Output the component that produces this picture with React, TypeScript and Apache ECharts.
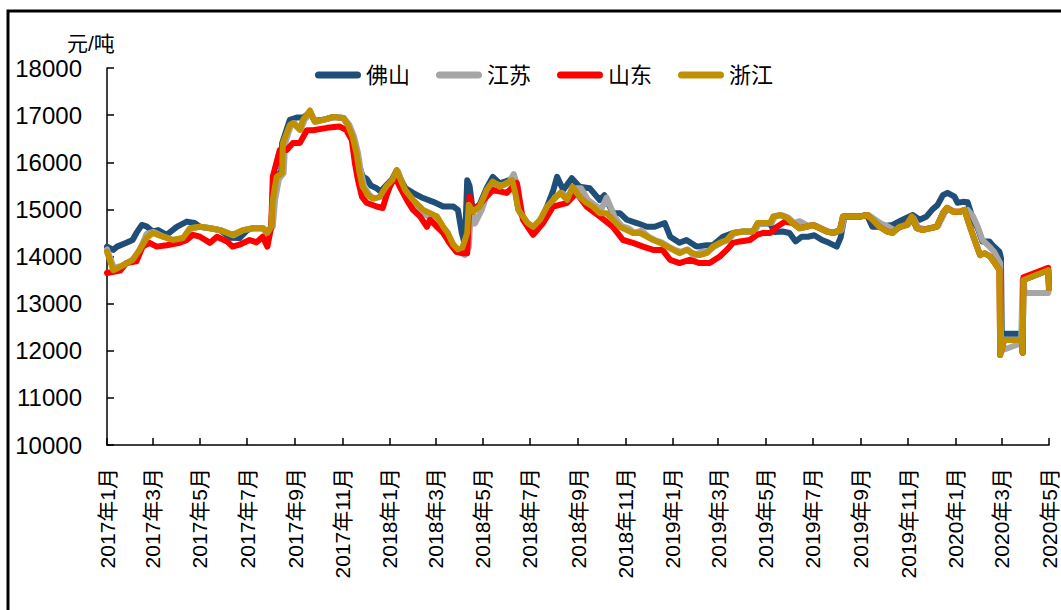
import React, { useEffect, useRef } from "react";
import * as echarts from "echarts";

const seriesNames = ["佛山", "江苏", "山东", "浙江"];
const seriesColors = ["#1F4E79", "#A6A6A6", "#FF0000", "#BF9000"];
const yTicks = { min: 10000, max: 18000, interval: 1000 };
const startDate = "2017-01-01";
const endDate = "2020-05-01";
const yUnit = "元/吨";

const foshan: [string, number][] = [
  ["2017-01-01",14210],["2017-01-09",14140],["2017-01-14",14210],["2017-01-26",14290],["2017-02-03",14350],["2017-02-08",14500],["2017-02-15",14670],["2017-02-21",14640],["2017-03-01",14530],["2017-03-08",14560],["2017-03-19",14460],["2017-04-01",14630],["2017-04-14",14740],["2017-04-24",14710],["2017-05-01",14630],["2017-05-14",14600],["2017-05-27",14560],["2017-06-09",14400],["2017-06-21",14390],["2017-07-01",14560],["2017-07-08",14600],["2017-07-21",14600],["2017-07-27",14500],["2017-08-01",14630],["2017-08-03",15250],["2017-08-08",15700],["2017-08-14",15800],["2017-08-15",16400],["2017-08-21",16700],["2017-08-25",16900],["2017-09-03",16950],["2017-09-11",16950],["2017-09-20",17050],["2017-09-26",16880],["2017-10-07",16900],["2017-10-20",16960],["2017-11-02",16940],["2017-11-08",16800],["2017-11-14",16560],["2017-11-19",16250],["2017-11-23",15900],["2017-11-27",15700],["2017-12-02",15650],["2017-12-08",15500],["2017-12-15",15450],["2017-12-20",15380],["2017-12-28",15520],["2018-01-04",15640],["2018-01-10",15830],["2018-01-17",15580],["2018-01-21",15450],["2018-01-31",15350],["2018-02-13",15240],["2018-02-26",15160],["2018-03-11",15060],["2018-03-24",15060],["2018-03-30",14990],["2018-04-04",14500],["2018-04-08",14250],["2018-04-11",15620],["2018-04-14",15500],["2018-04-18",15000],["2018-04-27",15100],["2018-05-06",15450],["2018-05-14",15690],["2018-05-23",15550],["2018-06-01",15600],["2018-06-08",15650],["2018-06-12",15400],["2018-06-16",15000],["2018-06-28",14650],["2018-07-05",14500],["2018-07-14",14700],["2018-07-23",15060],["2018-07-31",15400],["2018-08-05",15690],["2018-08-13",15410],["2018-08-24",15660],["2018-09-03",15480],["2018-09-16",15450],["2018-09-29",15200],["2018-10-05",15300],["2018-10-16",14920],["2018-10-25",14920],["2018-11-03",14780],["2018-11-16",14710],["2018-11-29",14630],["2018-12-09",14630],["2018-12-22",14710],["2018-12-29",14420],["2019-01-10",14290],["2019-01-19",14350],["2019-02-01",14210],["2019-02-14",14240],["2019-02-22",14240],["2019-03-07",14420],["2019-03-20",14500],["2019-04-02",14530],["2019-04-15",14530],["2019-04-21",14700],["2019-05-07",14700],["2019-05-13",14520],["2019-05-23",14530],["2019-06-01",14500],["2019-06-09",14320],["2019-06-17",14420],["2019-06-25",14420],["2019-07-03",14450],["2019-07-13",14350],["2019-07-22",14290],["2019-08-01",14210],["2019-08-06",14400],["2019-08-11",14850],["2019-08-18",14850],["2019-08-31",14850],["2019-09-09",14880],["2019-09-16",14630],["2019-09-25",14630],["2019-10-12",14670],["2019-10-25",14780],["2019-11-07",14880],["2019-11-16",14780],["2019-11-25",14850],["2019-12-02",14990],["2019-12-09",15090],["2019-12-16",15300],["2019-12-22",15350],["2019-12-31",15270],["2020-01-04",15140],["2020-01-11",15160],["2020-01-17",15150],["2020-01-24",14780],["2020-01-30",14600],["2020-02-05",14320],["2020-02-14",14320],["2020-02-18",14240],["2020-02-27",14100],["2020-02-29",13970],["2020-03-01",12360],["2020-03-27",12360],["2020-03-28",11960],["2020-03-29",13500],["2020-04-30",13710],["2020-05-01",13330]
];

const jiangsu: [string, number][] = [
  ["2017-01-01",14150],["2017-01-10",13760],["2017-01-20",13800],["2017-02-05",13950],["2017-02-14",14200],["2017-02-21",14480],["2017-03-02",14520],["2017-03-15",14420],["2017-03-28",14350],["2017-04-10",14400],["2017-04-20",14600],["2017-05-02",14630],["2017-05-15",14600],["2017-05-28",14560],["2017-06-13",14450],["2017-06-26",14560],["2017-07-09",14600],["2017-07-22",14600],["2017-07-28",14500],["2017-08-03",14630],["2017-08-06",15200],["2017-08-11",15650],["2017-08-17",15770],["2017-08-19",16400],["2017-08-23",16620],["2017-08-27",16790],["2017-08-31",16830],["2017-09-08",16690],["2017-09-13",16900],["2017-09-21",17050],["2017-09-27",16860],["2017-10-08",16900],["2017-10-21",16960],["2017-11-03",16940],["2017-11-10",16790],["2017-11-16",16540],["2017-11-21",16200],["2017-11-25",15780],["2017-11-29",15480],["2017-12-06",15300],["2017-12-12",15230],["2017-12-21",15270],["2017-12-30",15500],["2018-01-06",15620],["2018-01-12",15800],["2018-01-19",15450],["2018-01-23",15350],["2018-02-02",15100],["2018-02-15",14900],["2018-02-24",14800],["2018-03-05",14700],["2018-03-13",14450],["2018-03-19",14400],["2018-03-26",14200],["2018-04-02",14100],["2018-04-08",14030],["2018-04-13",14200],["2018-04-16",15050],["2018-04-21",14700],["2018-04-30",15000],["2018-05-08",15400],["2018-05-16",15550],["2018-05-25",15500],["2018-06-03",15550],["2018-06-10",15750],["2018-06-15",15500],["2018-06-20",14900],["2018-06-30",14650],["2018-07-08",14520],["2018-07-16",14750],["2018-07-25",15000],["2018-08-02",15250],["2018-08-11",15350],["2018-08-20",15250],["2018-08-27",15450],["2018-09-05",15450],["2018-09-14",15200],["2018-09-22",15100],["2018-10-01",15000],["2018-10-08",15250],["2018-10-18",14850],["2018-10-27",14650],["2018-11-05",14600],["2018-11-13",14500],["2018-11-22",14550],["2018-12-01",14420],["2018-12-09",14350],["2018-12-18",14300],["2018-12-27",14210],["2019-01-04",14140],["2019-01-12",14100],["2019-01-21",14150],["2019-01-29",14000],["2019-02-07",14100],["2019-02-16",14100],["2019-02-24",14210],["2019-03-05",14290],["2019-03-14",14350],["2019-03-22",14500],["2019-04-04",14530],["2019-04-17",14530],["2019-04-23",14710],["2019-05-09",14710],["2019-05-13",14850],["2019-05-22",14880],["2019-05-31",14820],["2019-06-07",14710],["2019-06-14",14750],["2019-06-25",14650],["2019-07-03",14670],["2019-07-12",14600],["2019-07-21",14530],["2019-07-29",14500],["2019-08-07",14560],["2019-08-11",14850],["2019-08-20",14850],["2019-09-02",14850],["2019-09-11",14880],["2019-09-18",14800],["2019-09-27",14700],["2019-10-07",14630],["2019-10-14",14560],["2019-10-23",14630],["2019-11-01",14670],["2019-11-08",14820],["2019-11-14",14620],["2019-11-22",14580],["2019-12-01",14600],["2019-12-10",14650],["2019-12-18",14920],["2019-12-23",15030],["2019-12-31",14950],["2020-01-09",14950],["2020-01-17",14990],["2020-01-24",14850],["2020-01-30",14630],["2020-02-05",14350],["2020-02-14",14210],["2020-02-20",14100],["2020-02-28",13860],["2020-02-29",12000],["2020-03-26",12160],["2020-03-28",13500],["2020-03-31",13225],["2020-04-30",13225],["2020-05-01",13330]
];

const shandong: [string, number][] = [
  ["2017-01-01",13650],["2017-01-18",13700],["2017-01-26",13860],["2017-02-08",13900],["2017-02-16",14210],["2017-02-25",14290],["2017-03-06",14210],["2017-03-19",14240],["2017-04-05",14290],["2017-04-14",14350],["2017-04-22",14460],["2017-05-01",14420],["2017-05-14",14290],["2017-05-23",14420],["2017-06-05",14320],["2017-06-12",14210],["2017-06-21",14250],["2017-07-04",14350],["2017-07-13",14300],["2017-07-21",14420],["2017-07-27",14210],["2017-08-01",14630],["2017-08-03",15690],["2017-08-12",16260],["2017-08-21",16260],["2017-08-29",16410],["2017-09-07",16410],["2017-09-16",16680],["2017-09-24",16680],["2017-10-12",16730],["2017-10-28",16760],["2017-11-06",16680],["2017-11-13",16470],["2017-11-17",15980],["2017-11-21",15620],["2017-11-26",15270],["2017-12-02",15140],["2017-12-15",15060],["2017-12-23",15030],["2017-12-28",15300],["2018-01-01",15480],["2018-01-08",15690],["2018-01-14",15480],["2018-01-23",15200],["2018-01-31",14990],["2018-02-09",14850],["2018-02-18",14630],["2018-02-22",14780],["2018-03-03",14630],["2018-03-11",14500],["2018-03-19",14290],["2018-03-28",14100],["2018-04-05",14070],["2018-04-11",14070],["2018-04-14",15270],["2018-04-18",14950],["2018-04-27",15100],["2018-05-06",15270],["2018-05-14",15410],["2018-06-01",15350],["2018-06-14",15560],["2018-06-22",14780],["2018-07-05",14460],["2018-07-18",14710],["2018-07-31",15060],["2018-08-18",15140],["2018-08-30",15350],["2018-09-12",15060],["2018-09-29",14850],["2018-10-16",14630],["2018-10-29",14350],["2018-11-11",14290],["2018-11-24",14210],["2018-12-07",14140],["2018-12-19",14140],["2018-12-29",13930],["2019-01-10",13860],["2019-01-23",13930],["2019-02-05",13860],["2019-02-18",13860],["2019-03-03",14000],["2019-03-12",14140],["2019-03-20",14290],["2019-03-29",14320],["2019-04-11",14350],["2019-04-20",14460],["2019-04-28",14500],["2019-05-07",14500],["2019-05-16",14630],["2019-05-26",14740],["2019-06-05",14710],["2019-06-14",14600],["2019-06-23",14630],["2019-07-01",14670],["2019-07-10",14600],["2019-07-19",14530],["2019-07-27",14500],["2019-08-05",14560],["2019-08-09",14850],["2019-08-18",14850],["2019-08-31",14850],["2019-09-09",14880],["2019-09-16",14780],["2019-09-25",14630],["2019-10-05",14530],["2019-10-12",14500],["2019-10-21",14630],["2019-10-30",14670],["2019-11-06",14850],["2019-11-12",14600],["2019-11-20",14560],["2019-11-29",14600],["2019-12-08",14630],["2019-12-16",14920],["2019-12-21",15030],["2019-12-29",14950],["2020-01-07",14950],["2020-01-13",14990],["2020-01-20",14630],["2020-01-26",14350],["2020-02-02",14030],["2020-02-08",14070],["2020-02-15",14000],["2020-02-21",13860],["2020-02-27",13710],["2020-02-28",11910],["2020-03-04",12230],["2020-03-27",12230],["2020-03-28",11960],["2020-03-29",13560],["2020-04-30",13760],["2020-05-01",13330]
];

const zhejiang: [string, number][] = [
  ["2017-01-01",14100],["2017-01-09",13710],["2017-01-18",13780],["2017-02-03",13930],["2017-02-12",14140],["2017-02-21",14390],["2017-03-01",14500],["2017-03-14",14420],["2017-03-27",14350],["2017-04-09",14390],["2017-04-18",14600],["2017-05-01",14630],["2017-05-14",14600],["2017-05-27",14560],["2017-06-12",14460],["2017-06-25",14560],["2017-07-08",14600],["2017-07-21",14600],["2017-07-27",14500],["2017-08-01",14630],["2017-08-03",15200],["2017-08-08",15690],["2017-08-15",15770],["2017-08-16",16400],["2017-08-21",16620],["2017-08-25",16790],["2017-08-29",16830],["2017-09-07",16690],["2017-09-11",16900],["2017-09-20",17100],["2017-09-26",16860],["2017-10-07",16900],["2017-10-20",16960],["2017-11-02",16940],["2017-11-08",16790],["2017-11-14",16540],["2017-11-19",16200],["2017-11-23",15780],["2017-11-27",15480],["2017-12-04",15300],["2017-12-10",15230],["2017-12-19",15270],["2017-12-28",15500],["2018-01-04",15620],["2018-01-10",15830],["2018-01-17",15560],["2018-01-21",15410],["2018-01-31",15200],["2018-02-13",14990],["2018-02-22",14920],["2018-03-03",14850],["2018-03-11",14630],["2018-03-17",14500],["2018-03-24",14250],["2018-03-30",14150],["2018-04-05",14200],["2018-04-11",14500],["2018-04-13",15100],["2018-04-18",14950],["2018-04-27",15060],["2018-05-06",15410],["2018-05-14",15590],["2018-05-23",15480],["2018-06-01",15560],["2018-06-08",15620],["2018-06-12",15350],["2018-06-16",14990],["2018-06-28",14710],["2018-07-05",14630],["2018-07-14",14780],["2018-07-23",15060],["2018-07-31",15200],["2018-08-09",15350],["2018-08-18",15200],["2018-08-25",15480],["2018-09-03",15270],["2018-09-12",15140],["2018-09-20",15060],["2018-09-29",14920],["2018-10-08",14920],["2018-10-16",14780],["2018-10-25",14630],["2018-11-03",14560],["2018-11-11",14500],["2018-11-20",14500],["2018-11-29",14420],["2018-12-07",14350],["2018-12-16",14290],["2018-12-25",14210],["2019-01-02",14140],["2019-01-10",14070],["2019-01-19",14140],["2019-01-27",14070],["2019-02-05",14030],["2019-02-14",14070],["2019-02-22",14210],["2019-03-03",14290],["2019-03-12",14350],["2019-03-20",14500],["2019-04-02",14530],["2019-04-15",14530],["2019-04-21",14710],["2019-05-07",14710],["2019-05-11",14850],["2019-05-20",14880],["2019-05-29",14820],["2019-06-05",14710],["2019-06-14",14600],["2019-06-23",14630],["2019-07-01",14670],["2019-07-10",14600],["2019-07-19",14530],["2019-07-27",14500],["2019-08-05",14560],["2019-08-09",14850],["2019-08-18",14850],["2019-08-31",14850],["2019-09-09",14880],["2019-09-16",14780],["2019-09-25",14630],["2019-10-05",14530],["2019-10-12",14500],["2019-10-21",14630],["2019-10-30",14670],["2019-11-06",14850],["2019-11-12",14600],["2019-11-20",14560],["2019-11-29",14600],["2019-12-08",14630],["2019-12-16",14920],["2019-12-21",15030],["2019-12-29",14950],["2020-01-07",14950],["2020-01-13",14990],["2020-01-20",14630],["2020-01-26",14350],["2020-02-02",14030],["2020-02-08",14070],["2020-02-15",14000],["2020-02-21",13860],["2020-02-27",13710],["2020-02-28",11910],["2020-03-04",12230],["2020-03-27",12230],["2020-03-28",11960],["2020-03-29",13500],["2020-04-30",13710],["2020-05-01",13330]
];

const seriesData = [foshan, jiangsu, shandong, zhejiang];

function buildDays(start: string, end: string): string[] {
  const out: string[] = [];
  const d = new Date(start + "T00:00:00Z");
  const e = new Date(end + "T00:00:00Z");
  while (d.getTime() <= e.getTime()) {
    out.push(d.toISOString().slice(0, 10));
    d.setUTCDate(d.getUTCDate() + 1);
  }
  return out;
}

const days = buildDays(startDate, endDate);

const isTickDay = (_i: number, v: string) => {
  const m = parseInt(v.slice(5, 7), 10);
  return v.slice(8, 10) === "01" && m % 2 === 1;
};

const FONT = "'Liberation Sans', Arial, 'Noto Sans CJK SC', sans-serif";
const PILL = "path://M3.5,0H42.5A3.5,3.5,0,0,1,42.5,7H3.5A3.5,3.5,0,0,1,3.5,0Z";

export default function App() {
  const ref = useRef<HTMLDivElement>(null);
  useEffect(() => {
    if (!ref.current) return;
    const chart = echarts.init(ref.current, undefined, { renderer: "svg" });
    chart.setOption({
      animation: false,
      backgroundColor: "#fff",
      textStyle: { fontFamily: FONT },
      graphic: [
        {
          type: "rect",
          silent: true,
          shape: { x: 8, y: 11, width: 1100, height: 700 },
          style: { fill: "none", stroke: "#000", lineWidth: 3 },
        },
        {
          type: "text",
          silent: true,
          x: 67,
          y: 33,
          style: { text: yUnit, font: `21px ${FONT}`, fill: "#000" },
        },
      ],
      legend: {
        left: 310,
        top: 59,
        icon: PILL,
        itemWidth: 46,
        itemHeight: 7,
        itemGap: 26,
        itemStyle: { borderWidth: 0 },
        textStyle: { fontSize: 22, color: "#000", fontFamily: FONT },
        data: seriesNames,
      },
      grid: { left: 107, right: 12, top: 68, bottom: 165, containLabel: false },
      xAxis: {
        type: "category",
        data: days,
        boundaryGap: false,
        axisLine: { lineStyle: { color: "#000", width: 1.5 } },
        axisTick: { inside: true, length: 7, interval: isTickDay, lineStyle: { color: "#000", width: 1.5 } },
        axisLabel: {
          interval: isTickDay,
          rotate: 90,
          margin: 23,
          padding: [15, 0, 0, 0],
          fontSize: 21,
          color: "#000",
          fontFamily: FONT,
          formatter: (v: string) => `${v.slice(0, 4)}年${parseInt(v.slice(5, 7), 10)}月`,
        },
        splitLine: { show: false },
      },
      yAxis: {
        type: "value",
        min: yTicks.min,
        max: yTicks.max,
        interval: yTicks.interval,
        axisLine: { show: true, lineStyle: { color: "#000", width: 1.5 } },
        axisTick: { show: true, inside: true, length: 7, lineStyle: { color: "#000", width: 1.5 } },
        axisLabel: {
          fontSize: 24,
          color: "#000",
          margin: 25,
          fontFamily: FONT,
          formatter: (v: number) => String(v),
        },
        splitLine: { show: false },
      },
      series: seriesNames.map((name, i) => ({
        name,
        type: "line",
        symbol: "none",
        data: seriesData[i],
        color: seriesColors[i],
        lineStyle: { width: 6, color: seriesColors[i], cap: "round", join: "round" },
      })),
    });
    return () => chart.dispose();
  }, []);
  return (
    <div
      ref={ref}
      style={{ position: "absolute", left: 0, top: 0, width: 1061, height: 610, background: "#fff" }}
    />
  );
}
